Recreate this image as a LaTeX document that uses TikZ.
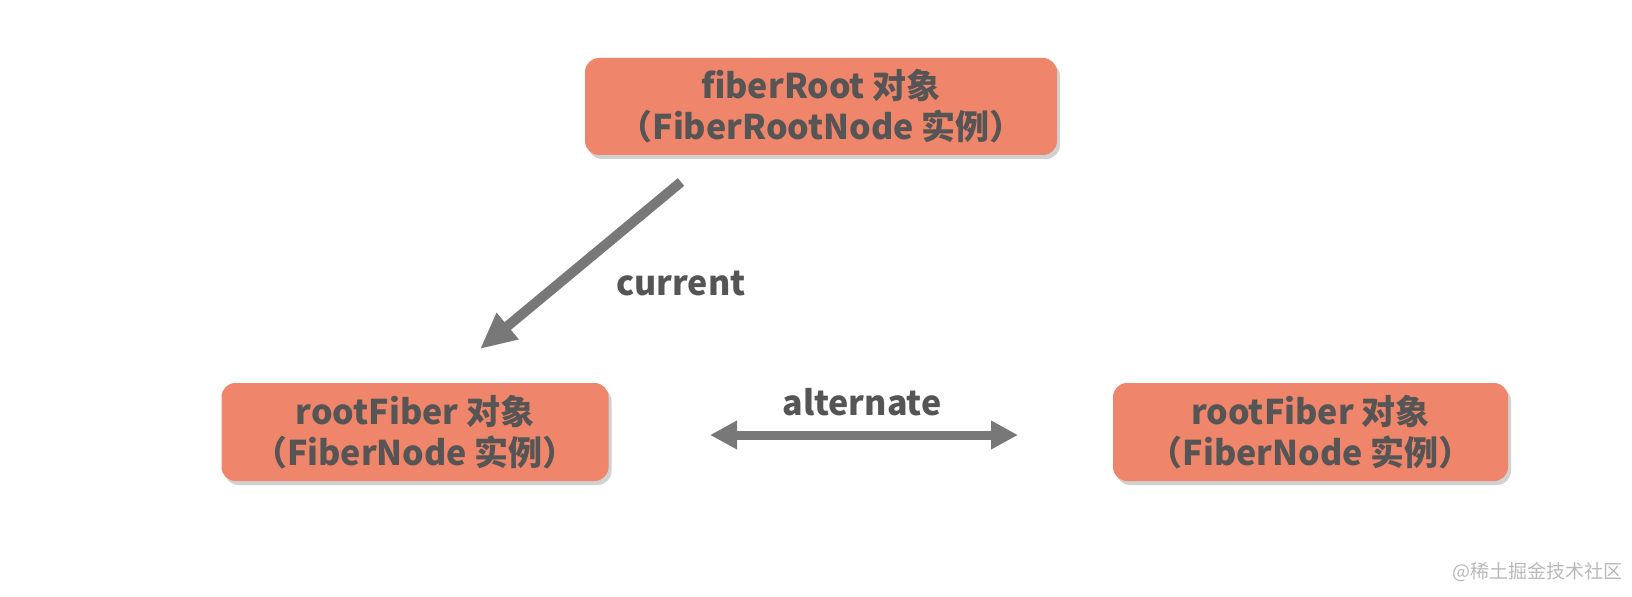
\documentclass[tikz,border=0pt]{standalone}
\usepackage{fontspec}
\setmainfont{Noto Sans CJK SC}
\usetikzlibrary{arrows.meta,shadows}
\definecolor{boxfill}{RGB}{239,133,106}
\definecolor{txtgray}{RGB}{85,85,85}
\definecolor{arrgray}{RGB}{120,120,120}
\definecolor{wmgray}{RGB}{185,185,185}
\tikzset{
  objbox/.style={rounded corners=14bp, fill=boxfill, draw=none, align=center,
    text=txtgray, font=\fontsize{34bp}{41bp}\selectfont\bfseries,
    drop shadow={shadow xshift=3bp, shadow yshift=-4bp, fill=black, opacity=0.18},
    inner sep=0pt},
  lbl/.style={text=txtgray, font=\fontsize{34bp}{38bp}\selectfont\bfseries, inner sep=0pt, anchor=base},
  bigarrow/.style={draw=arrgray, line width=10bp, -{Triangle[width=32bp,length=36bp]}},
  dblarrow/.style={draw=arrgray, line width=9bp, {Triangle[width=27bp,length=27bp]}-{Triangle[width=27bp,length=27bp]}},
}
\begin{document}
\begin{tikzpicture}[x=1bp,y=-1bp]
\useasboundingbox (0,0) rectangle (1632,597);
\node[objbox, minimum width=472bp, minimum height=97bp] (root) at (821,106.5)
  {fiberRoot 对象\\（FiberRootNode 实例）};
\node[objbox, minimum width=387bp, minimum height=98bp] (left) at (415,432)
  {rootFiber 对象\\（FiberNode 实例）};
\node[objbox, minimum width=395bp, minimum height=98bp] (right) at (1310.5,432)
  {rootFiber 对象\\（FiberNode 实例）};
\coordinate (cs) at (681,182);
\coordinate (ce) at (480,349);
\draw[bigarrow] (cs) -- (ce);
\node[lbl] (cur) at (681,295) {current};
\coordinate (al) at (710,435);
\coordinate (ar) at (1018,435);
\draw[dblarrow] (al) -- (ar);
\node[lbl] (alt) at (862,415) {alternate};
\node[text=wmgray, font=\fontsize{19bp}{22bp}\selectfont, anchor=base west, inner sep=0pt] (wm) at (1452,578) {@稀土掘金技术社区};
\end{tikzpicture}
\end{document}
